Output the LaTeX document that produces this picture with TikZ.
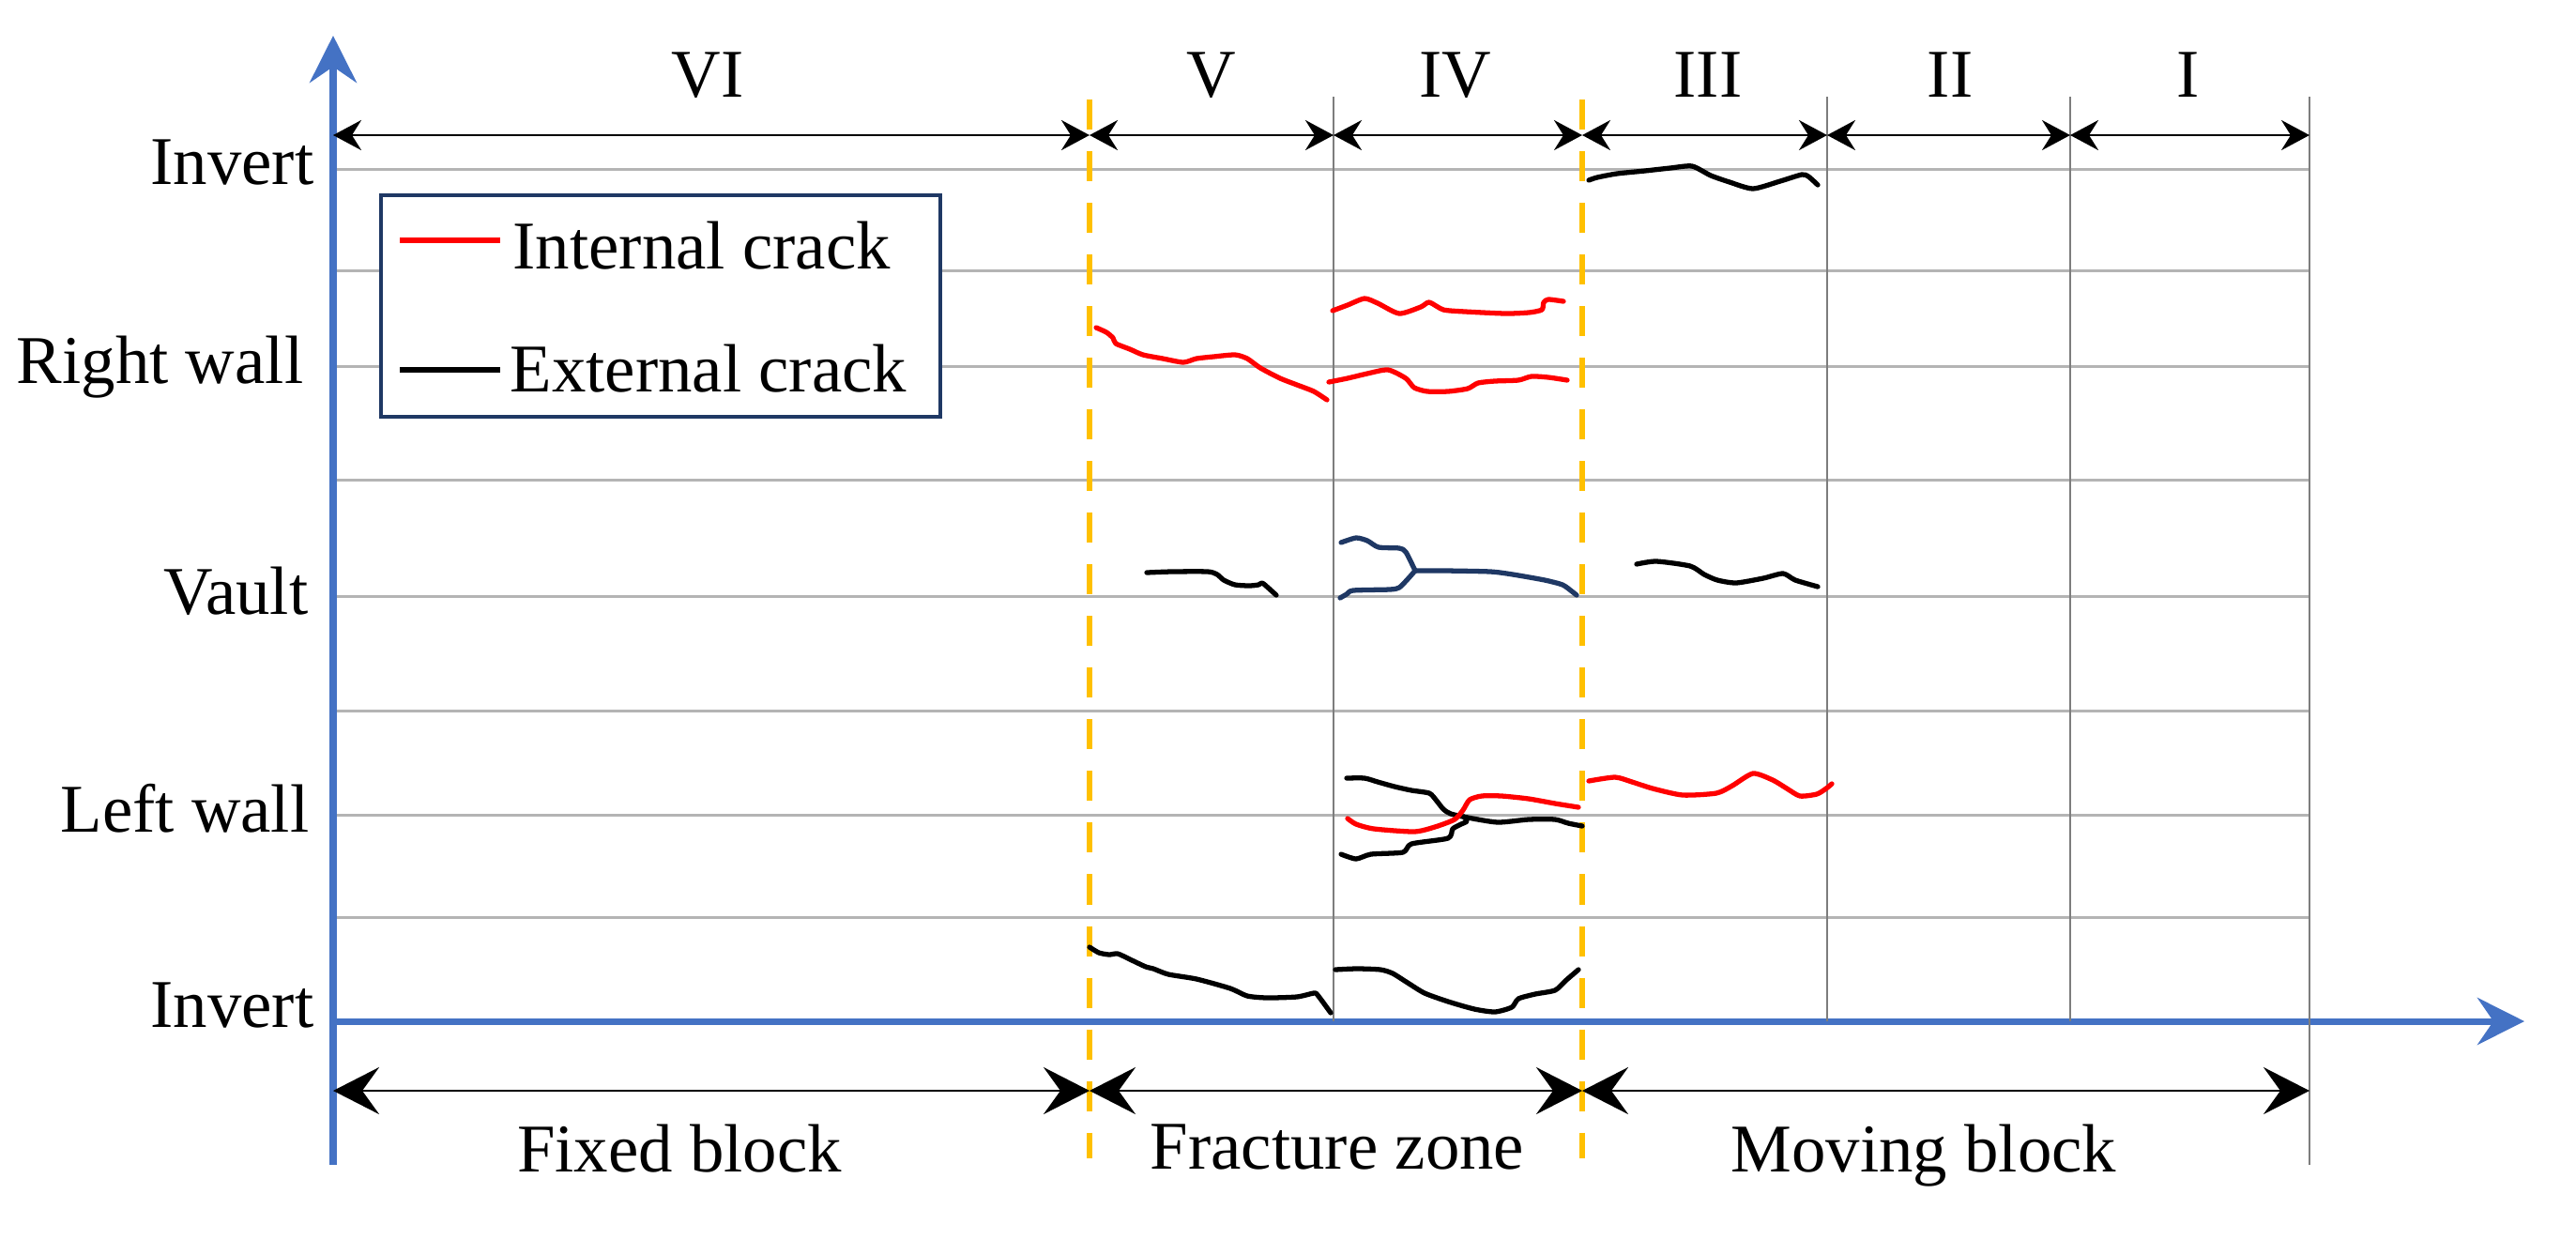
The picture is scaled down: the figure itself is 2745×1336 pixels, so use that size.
\documentclass[tikz,border=0pt]{standalone}
\usepackage{fontspec}
\setmainfont{Liberation Serif}
\usetikzlibrary{arrows.meta}

\definecolor{axisblue}{RGB}{68,114,196}
\definecolor{zoneorange}{RGB}{255,192,0}
\definecolor{legendnavy}{RGB}{31,56,100}
\definecolor{gridgray}{RGB}{180,180,180}
\definecolor{sectgray}{RGB}{125,125,125}

\tikzset{
	gridline/.style={gridgray,line width=0.85pt},
	sectline/.style={sectgray,line width=0.7pt},
	zoneline/.style={zoneorange,line width=1.7pt,dash pattern=on 0.32cm off 0.23cm},
	axisline/.style={axisblue,line width=2pt,-{Stealth[length=0.5cm,width=0.5cm,inset=0.17cm]}},
	span/.style={line width=0.8pt,{Stealth[length=0.3cm,width=0.32cm,inset=0.1cm]}-{Stealth[length=0.3cm,width=0.32cm,inset=0.1cm]}},
	widespan/.style={line width=0.8pt,{Stealth[length=0.49cm,width=0.5cm,inset=0.18cm]}-{Stealth[length=0.49cm,width=0.5cm,inset=0.18cm]}},
	crack/.style={line width=1.5pt,line join=round,line cap=round},
	lab/.style={font=\fontsize{20.7}{24}\selectfont,inner sep=0pt}
}

\begin{document}
\begin{tikzpicture}[x=0.01cm,y=-0.01cm]
	\useasboundingbox (0,0) rectangle (2745,1336);
	\draw[gridline] (355,180) -- (2461,180);
	\draw[gridline] (355,288) -- (2461,288);
	\draw[gridline] (355,390) -- (2461,390);
	\draw[gridline] (355,511) -- (2461,511);
	\draw[gridline] (355,635) -- (2461,635);
	\draw[gridline] (355,757) -- (2461,757);
	\draw[gridline] (355,868) -- (2461,868);
	\draw[gridline] (355,977) -- (2461,977);
	\draw[axisline] (355,1241) -- (355,38);
	\draw[axisline] (355,1088) -- (2690,1088);
	\draw[sectline] (1421,103) -- (1421,1088);
	\draw[sectline] (1947,103) -- (1947,1088);
	\draw[sectline] (2206,103) -- (2206,1088);
	\draw[sectline] (2461,103) -- (2461,1241);
	\draw[zoneline] (1161,106) -- (1161,1234);
	\draw[zoneline] (1686,106) -- (1686,1234);

	\coordinate (t0) at (355,144);
	\coordinate (t1) at (1161,144);
	\coordinate (t2) at (1421,144);
	\coordinate (t3) at (1686,144);
	\coordinate (t4) at (1947,144);
	\coordinate (t5) at (2206,144);
	\coordinate (t6) at (2461,144);
	\draw[span] (t0) -- (t1);
	\draw[span] (t1) -- (t2);
	\draw[span] (t2) -- (t3);
	\draw[span] (t3) -- (t4);
	\draw[span] (t4) -- (t5);
	\draw[span] (t5) -- (t6);
	\node[lab,anchor=base] (sec6) at (754,103) {VI};
	\node[lab,anchor=base] (sec5) at (1291,103) {V};
	\node[lab,anchor=base] (sec4) at (1551,103) {IV};
	\node[lab,anchor=base] (sec3) at (1820,103) {III};
	\node[lab,anchor=base] (sec2) at (2078,103) {II};
	\node[lab,anchor=base] (sec1) at (2332,103) {I};

	\coordinate (b0) at (355,1162);
	\coordinate (b1) at (1161,1162);
	\coordinate (b2) at (1686,1162);
	\coordinate (b3) at (2461,1162);
	\draw[widespan] (b0) -- (b1);
	\draw[widespan] (b1) -- (b2);
	\draw[widespan] (b2) -- (b3);
	\node[lab,anchor=base] (fixed) at (724,1248) {Fixed block};
	\node[lab,anchor=base] (fracture) at (1425,1245) {Fracture zone};
	\node[lab,anchor=base] (moving) at (2050,1248) {Moving block};

	\node[lab,anchor=base east] (invtop) at (335,196) {Invert};
	\node[lab,anchor=base east] (rwall) at (324,408) {Right wall};
	\node[lab,anchor=base east] (vault) at (329,654) {Vault};
	\node[lab,anchor=base east] (lwall) at (330,886) {Left wall};
	\node[lab,anchor=base east] (invbot) at (335,1094) {Invert};

	\draw[legendnavy,line width=1pt,fill=white] (406,208) rectangle (1002,444);
	\draw[red,line width=1.9pt] (426,256) -- (533,256);
	\draw[black,line width=1.9pt] (426,394) -- (533,394);
	\node[lab,anchor=base west] (intkey) at (546,286) {Internal crack};
	\node[lab,anchor=base west] (extkey) at (543,417) {External crack};

	\draw[crack,red] plot[smooth,tension=0.4] coordinates {(1168,349) (1179,354) (1186,360) (1189,366) (1204,372) (1218,378) (1239,382) (1261,386) (1275,382) (1293,380) (1316,378) (1329,382) (1343,392) (1364,403) (1382,410) (1400,417) (1414,426)};
	\draw[crack,red] plot[smooth,tension=0.4] coordinates {(1420,331) (1436,325) (1454,318) (1468,323) (1491,334) (1514,327) (1523,322) (1538,330) (1561,332) (1604,334) (1629,333) (1643,330) (1645,322) (1650,319) (1666,321)};
	\draw[crack,red] plot[smooth,tension=0.4] coordinates {(1416,407) (1436,403) (1457,398) (1479,394) (1498,403) (1507,413) (1521,417) (1543,417) (1564,414) (1575,408) (1593,406) (1618,405) (1632,401) (1650,402) (1670,405)};
	\draw[crack] plot[smooth,tension=0.4] coordinates {(1693,192) (1702,189) (1723,185) (1753,182) (1780,179) (1803,177) (1823,187) (1843,194) (1868,201) (1897,193) (1920,186) (1927,188) (1937,197)};

	\draw[crack] plot[smooth,tension=0.4] coordinates {(1222,610) (1249,609) (1287,609) (1297,612) (1304,618) (1316,623) (1331,624) (1341,623) (1345,621) (1350,625) (1360,634)};
	\draw[crack,legendnavy] plot[smooth,tension=0.4] coordinates {(1429,578) (1445,573) (1457,576) (1469,583) (1491,584) (1498,588) (1508,608)};
	\draw[crack,legendnavy] plot[smooth,tension=0.4] coordinates {(1508,608) (1539,608) (1588,609) (1612,612) (1646,618) (1665,623) (1675,630) (1680,634)};
	\draw[crack,legendnavy] plot[smooth,tension=0.4] coordinates {(1508,608) (1500,617) (1491,626) (1481,628) (1442,629) (1435,633) (1428,637)};
	\draw[crack] plot[smooth,tension=0.4] coordinates {(1744,601) (1765,598) (1801,603) (1816,612) (1830,618) (1850,621) (1879,616) (1900,611) (1913,618) (1937,625)};

	\draw[crack] plot[smooth,tension=0.4] coordinates {(1435,829) (1454,829) (1468,833) (1486,838) (1504,842) (1523,845) (1530,852) (1538,862) (1546,867) (1564,871) (1596,876) (1629,873) (1657,873) (1671,877) (1686,880)};
	\draw[crack] plot[smooth,tension=0.4] coordinates {(1429,910) (1445,915) (1461,910) (1495,908) (1504,899) (1543,893) (1548,883) (1557,878) (1563,875) (1560,870)};
	\draw[crack,red] plot[smooth,tension=0.4] coordinates {(1436,872) (1445,878) (1464,883) (1507,886) (1529,881) (1550,873) (1559,863) (1566,852) (1579,848) (1600,848) (1629,851) (1657,856) (1682,860)};
	\draw[crack,red] plot[smooth,tension=0.4] coordinates {(1693,832) (1721,828) (1739,833) (1761,840) (1793,847) (1829,845) (1846,837) (1868,824) (1889,831) (1904,840) (1918,848) (1936,846) (1946,840) (1952,835)};

	\draw[crack] plot[smooth,tension=0.4] coordinates {(1161,1009) (1171,1015) (1182,1017) (1191,1016) (1204,1022) (1221,1030) (1229,1032) (1245,1038) (1275,1043) (1311,1053) (1329,1061) (1350,1063) (1382,1062) (1400,1058) (1404,1060) (1418,1079)};
	\draw[crack] plot[smooth,tension=0.4] coordinates {(1423,1033) (1446,1032) (1471,1033) (1484,1037) (1500,1047) (1518,1058) (1543,1067) (1571,1075) (1593,1078) (1611,1073) (1618,1064) (1636,1059) (1657,1055) (1668,1045) (1682,1033)};
\end{tikzpicture}
\end{document}
